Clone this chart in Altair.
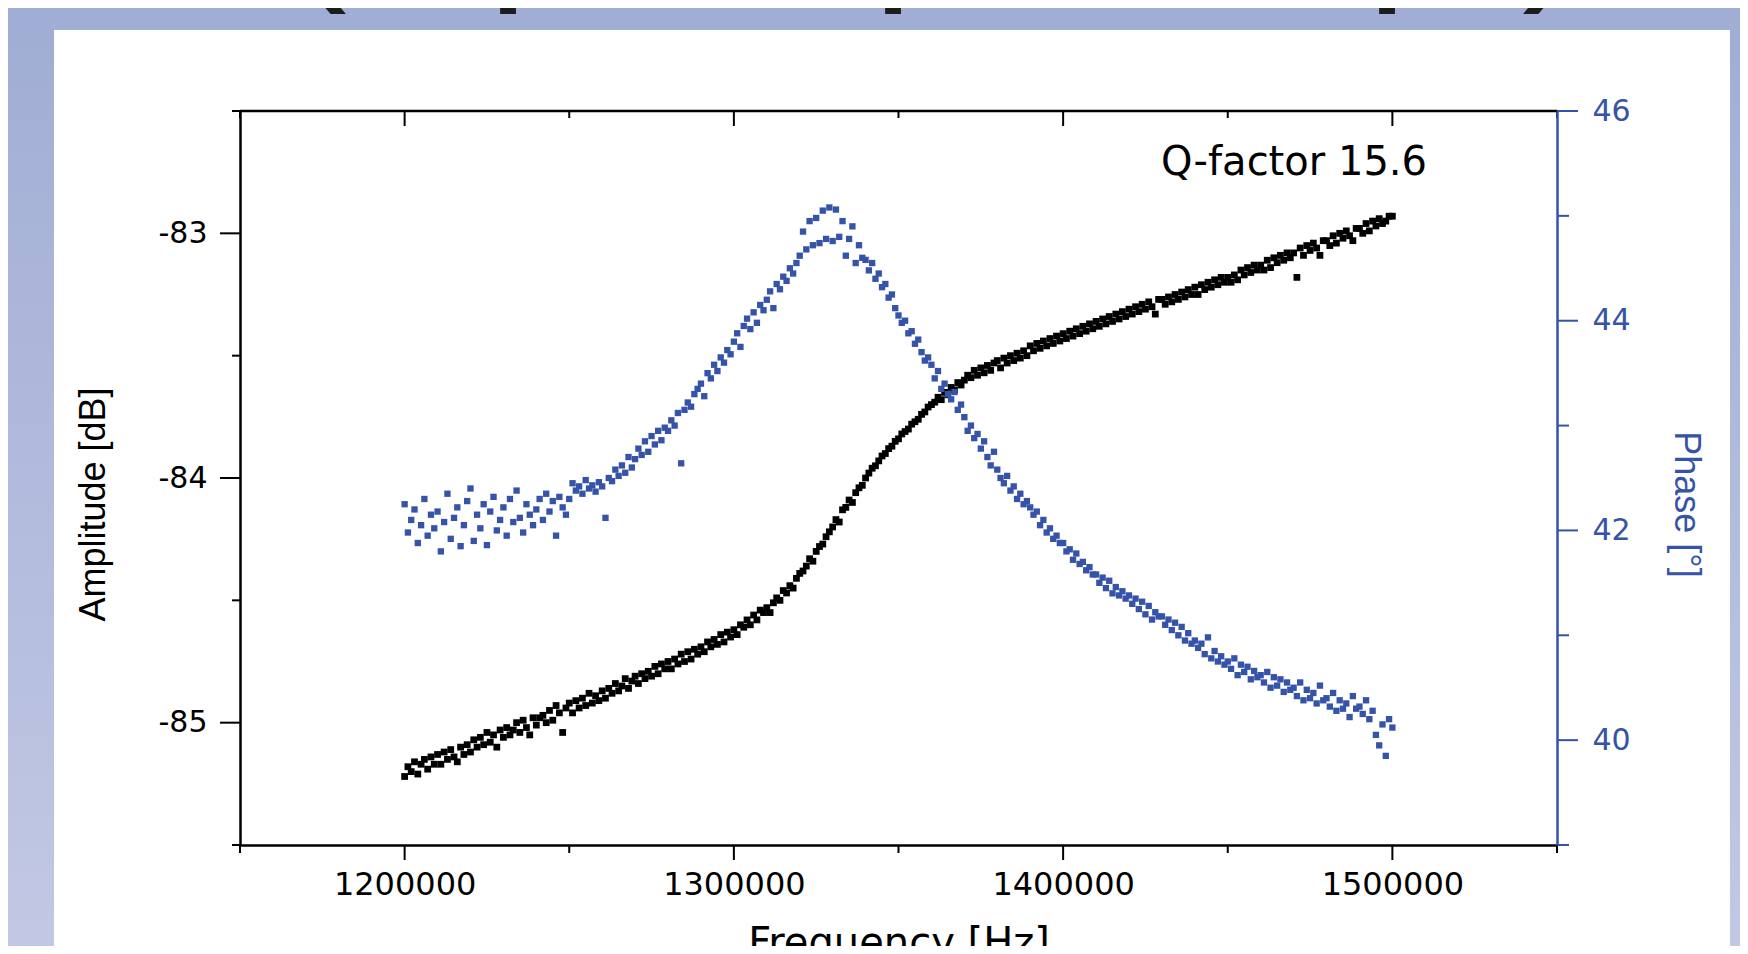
import altair as alt
import pandas as pd

# ---------------- data ----------------
freq_hz = [k * 1000 for k in range(1200, 1501)]  # uniform sweep, 1 kHz step

amplitude_db = [
    -85.22, -85.18, -85.20, -85.16, -85.21, -85.17, -85.15, -85.19, -85.14, -85.17,
    -85.13, -85.17, -85.12, -85.15, -85.11, -85.14, -85.16, -85.10, -85.13, -85.09,
    -85.12, -85.07, -85.10, -85.06, -85.09, -85.04, -85.08, -85.05, -85.10, -85.03,
    -85.06, -85.02, -85.05, -85.03, -85.00, -85.04, -84.99, -85.02, -85.05, -84.98,
    -85.01, -84.98, -84.97, -85.00, -84.95, -84.99, -84.93, -84.96, -85.04, -84.94,
    -84.92, -84.96, -84.91, -84.94, -84.90, -84.93, -84.88, -84.92, -84.89, -84.91,
    -84.87, -84.90, -84.86, -84.88, -84.84, -84.87, -84.85, -84.82, -84.86, -84.83,
    -84.81, -84.84, -84.80, -84.82, -84.79, -84.81, -84.77, -84.80, -84.76, -84.78,
    -84.75, -84.78, -84.74, -84.76, -84.72, -84.75, -84.71, -84.74, -84.70, -84.72,
    -84.69, -84.71, -84.67, -84.69, -84.66, -84.68, -84.64, -84.67, -84.63, -84.65,
    -84.62, -84.64, -84.60, -84.61, -84.58, -84.60, -84.56, -84.58, -84.54, -84.55,
    -84.53, -84.55, -84.51, -84.49, -84.50, -84.46, -84.47, -84.44, -84.45, -84.41,
    -84.39, -84.38, -84.36, -84.33, -84.34, -84.30, -84.28, -84.27, -84.24, -84.22,
    -84.20, -84.17, -84.18, -84.13, -84.12, -84.09, -84.10, -84.06, -84.04, -84.03,
    -84.00, -83.98, -83.96, -83.95, -83.93, -83.91, -83.90, -83.88, -83.87, -83.85,
    -83.84, -83.82, -83.81, -83.80, -83.78, -83.77, -83.76, -83.74, -83.73, -83.71,
    -83.70, -83.69, -83.67, -83.68, -83.65, -83.66, -83.63, -83.64, -83.61, -83.62,
    -83.60, -83.58, -83.59, -83.56, -83.58, -83.55, -83.57, -83.54, -83.56, -83.53,
    -83.52, -83.55, -83.51, -83.53, -83.50, -83.52, -83.49, -83.51, -83.48, -83.50,
    -83.46, -83.48, -83.45, -83.47, -83.44, -83.46, -83.43, -83.45, -83.42, -83.44,
    -83.41, -83.43, -83.40, -83.42, -83.39, -83.41, -83.38, -83.40, -83.37, -83.39,
    -83.36, -83.38, -83.35, -83.37, -83.34, -83.36, -83.33, -83.35, -83.32, -83.34,
    -83.31, -83.33, -83.30, -83.32, -83.29, -83.31, -83.28, -83.30, -83.33, -83.27,
    -83.27, -83.29, -83.26, -83.28, -83.25, -83.27, -83.24, -83.26, -83.23, -83.25,
    -83.22, -83.25, -83.21, -83.23, -83.20, -83.22, -83.19, -83.21, -83.18, -83.20,
    -83.18, -83.20, -83.17, -83.19, -83.15, -83.17, -83.14, -83.16, -83.13, -83.15,
    -83.13, -83.15, -83.11, -83.14, -83.10, -83.12, -83.09, -83.11, -83.08, -83.10,
    -83.08, -83.18, -83.06, -83.09, -83.05, -83.07, -83.04, -83.06, -83.09, -83.03,
    -83.03, -83.05, -83.01, -83.04, -83.00, -83.02, -82.99, -83.01, -83.03, -82.98,
    -82.98, -83.00, -82.96, -82.99, -82.95, -82.97, -82.94, -82.96, -82.95, -82.93,
    -82.93,
]

phase_deg = [
    42.25, 41.98, 42.10, 42.20, 41.88, 42.05, 42.30, 41.95, 42.15, 42.02,
    42.18, 41.80, 42.08, 42.35, 41.92, 42.12, 42.22, 41.85, 42.05, 42.28,
    42.40, 41.90, 42.15, 42.02, 42.25, 41.86, 42.18, 42.32, 42.00, 42.10,
    42.22, 41.95, 42.30, 42.08, 42.38, 42.12, 41.98, 42.25, 42.15, 42.05,
    42.20, 42.30, 42.10, 42.35, 42.18, 42.28, 41.95, 42.32, 42.22, 42.15,
    42.30, 42.45, 42.38, 42.42, 42.35, 42.48, 42.40, 42.43, 42.37, 42.46,
    42.42, 42.12, 42.50, 42.47, 42.58, 42.52, 42.62, 42.55, 42.70, 42.60,
    42.68, 42.78, 42.72, 42.85, 42.75, 42.90, 42.82, 42.95, 42.86, 42.98,
    42.95, 43.05, 43.00, 43.12, 42.64, 43.15, 43.22, 43.18, 43.30, 43.35,
    43.40, 43.28, 43.50, 43.45, 43.58, 43.52, 43.65, 43.60, 43.72, 43.68,
    43.80, 43.88, 43.75, 43.95, 44.02, 43.92, 44.08, 43.98, 44.15, 44.10,
    44.20, 44.28, 44.12, 44.35, 44.30, 44.42, 44.38, 44.50, 44.45, 44.55,
    44.62, 44.85, 44.68, 44.95, 44.72, 44.98, 44.74, 45.05, 44.78, 45.08,
    44.76, 45.06, 44.80, 44.95, 44.62, 44.78, 44.90, 44.55, 44.72, 44.60,
    44.58, 44.48, 44.55, 44.40, 44.45, 44.32, 44.35, 44.22, 44.25, 44.12,
    44.05, 43.98, 44.00, 43.88, 43.90, 43.78, 43.82, 43.70, 43.62, 43.65,
    43.58, 43.45, 43.52, 43.35, 43.40, 43.30, 43.25, 43.32, 43.15, 43.20,
    43.08, 42.95, 43.00, 42.88, 42.92, 42.78, 42.85, 42.70, 42.62, 42.75,
    42.58, 42.50, 42.45, 42.52, 42.38, 42.42, 42.30, 42.35, 42.25, 42.28,
    42.22, 42.15, 42.18, 42.05, 42.10, 41.98, 42.02, 41.92, 41.95, 41.88,
    41.88, 41.80, 41.82, 41.72, 41.78, 41.68, 41.70, 41.62, 41.65, 41.58,
    41.58, 41.50, 41.55, 41.45, 41.52, 41.40, 41.46, 41.38, 41.42, 41.35,
    41.38, 41.30, 41.35, 41.25, 41.32, 41.20, 41.28, 41.15, 41.22, 41.18,
    41.18, 41.10, 41.15, 41.05, 41.12, 41.00, 41.08, 40.95, 41.02, 40.92,
    40.95, 40.88, 40.92, 40.82, 40.98, 40.78, 40.85, 40.75, 40.80, 40.72,
    40.75, 40.68, 40.78, 40.62, 40.72, 40.65, 40.70, 40.58, 40.66, 40.60,
    40.62, 40.55, 40.65, 40.50, 40.60, 40.52, 40.58, 40.46, 40.55, 40.48,
    40.50, 40.42, 40.55, 40.38, 40.48, 40.40, 40.45, 40.35, 40.52, 40.38,
    40.40, 40.32, 40.45, 40.28, 40.38, 40.30, 40.35, 40.22, 40.42, 40.30,
    40.32, 40.25, 40.38, 40.20, 40.28, 40.05, 39.95, 40.15, 39.85, 40.20,
    40.12,
]

x_major = [1200000, 1300000, 1400000, 1500000]
x_minor = [1150000, 1250000, 1350000, 1450000, 1550000]
amp_major = [-85, -84, -83]
amp_minor = [-85.5, -84.5, -83.5, -82.5]
phase_major = [40, 42, 44, 46]
phase_minor = [39, 41, 43, 45]
q_label = "Q-factor 15.6"
x_title = "Frequency [Hz]"
amp_title = "Amplitude [dB]"
phase_title = "Phase [°]"
slide_glyphs = ["(", "p", "p", "p", ")"]  # cut-off slide heading above the panel

# ---------------- layout / style ----------------
W, H = 1317, 734
PAD = {"left": 232, "top": 103, "right": 183, "bottom": 101}
BLUE = "#3553a8"
NUM_FONT = "DejaVu Sans"
TXT_FONT = "Liberation Sans"

df = pd.DataFrame({"freq": freq_hz, "amp": amplitude_db, "phase": phase_deg})
one = alt.Data(values=[{}])

x_scale = alt.Scale(domain=[1150000, 1550000], nice=False, zero=False)
amp_scale = alt.Scale(domain=[-85.5, -82.5], nice=False, zero=False)
ph_scale = alt.Scale(domain=[39, 46], nice=False, zero=False)

x_axis = alt.Axis(
    values=x_major, format="d", ticks=False, grid=False,
    domainColor="black", domainWidth=2.5, labelColor="black",
    labelFont=NUM_FONT, labelFontSize=32, labelPadding=24,
    title=x_title, titleFont=NUM_FONT, titleFontSize=40, titleFontWeight="normal",
    titleColor="black", titleY=78, titleBaseline="top", zindex=2,
)
x_enc = alt.X("freq:Q", scale=x_scale, axis=x_axis)

# background gradient and white panel
bg = alt.Chart(one).mark_rect(
    fill=alt.LinearGradient(
        gradient="linear", x1=0, x2=0, y1=0, y2=1,
        stops=[alt.GradientStop(offset=0, color="#a0add4"),
               alt.GradientStop(offset=1, color="#c2c8e4")],
    )
).encode(x=alt.value(-PAD["left"]), x2=alt.value(W + PAD["right"]),
         y=alt.value(-PAD["top"]), y2=alt.value(H + PAD["bottom"]))

panel = alt.Chart(one).mark_rect(fill="white").encode(
    x=alt.value(-186), x2=alt.value(1490), y=alt.value(-81), y2=alt.value(H + PAD["bottom"] + 5))

glyph_x = [47, 248, 633, 1127, 1282]
glyph_layers = [
    alt.Chart(one).mark_text(text=g, font=TXT_FONT, fontSize=180, align="left",
                             baseline="alphabetic", color="#1c1c1c")
    .encode(x=alt.value(gx), y=alt.value(-134))
    for g, gx in zip(slide_glyphs, glyph_x)
]

amp_pts = alt.Chart(df).mark_square(size=46, color="black", opacity=1, filled=True).encode(
    x=x_enc,
    y=alt.Y("amp:Q", scale=amp_scale, axis=alt.Axis(
        orient="left", values=amp_major, ticks=False, grid=False,
        labelExpr="toString(datum.value)",
        domainColor="black", domainWidth=2.5, labelColor="black",
        labelFont=NUM_FONT, labelFontSize=30, labelPadding=33,
        title=amp_title, titleFont=TXT_FONT, titleFontSize=36, titleFontWeight="normal",
        titleColor="black", titleAngle=270, titleX=-147, titleY=393,
        titleAlign="center", titleBaseline="middle", zindex=2)),
)

ph_pts = alt.Chart(df).mark_square(size=40, color=BLUE, opacity=1, filled=True).encode(
    x=x_enc,
    y=alt.Y("phase:Q", scale=ph_scale, axis=alt.Axis(
        orient="right", values=phase_major, format="d", ticks=False, grid=False,
        domainColor=BLUE, domainWidth=2.5, labelColor=BLUE,
        labelFont=NUM_FONT, labelFontSize=30, labelPadding=35,
        title=phase_title, titleFont=TXT_FONT, titleFontSize=36, titleFontWeight="normal",
        titleColor=BLUE, titleAngle=90, titleX=128, titleY=393,
        titleAlign="center", titleBaseline="middle", zindex=2)),
)

# tick marks (drawn through the same scales)
def xticks(vals, y0, y1):
    return alt.Chart(pd.DataFrame({"freq": vals})).mark_rule(color="black", strokeWidth=2).encode(
        x=x_enc, y=alt.value(y0), y2=alt.value(y1))

def yticks(vals, field, scale, x0, x1, color):
    return alt.Chart(pd.DataFrame({field: vals})).mark_rule(color=color, strokeWidth=2).encode(
        y=alt.Y(f"{field}:Q", scale=scale, axis=None), x=alt.value(x0), x2=alt.value(x1))

tick_layers = [
    xticks(x_major, H, H + 15), xticks(x_minor, H, H + 8),
    xticks(x_major, 0, 15), xticks(x_minor, 0, 7),
    yticks(amp_major, "amp", amp_scale, 0, -20, "black"),
    yticks(amp_minor, "amp", amp_scale, 0, -8, "black"),
    yticks(phase_major, "phase", ph_scale, W, W + 21, BLUE),
    yticks(phase_minor, "phase", ph_scale, W, W + 12, BLUE),
]

top_line = alt.Chart(one).mark_rule(color="black", strokeWidth=2.5).encode(
    x=alt.value(0), x2=alt.value(W), y=alt.value(0))

q_text = alt.Chart(one).mark_text(text=q_label, font=NUM_FONT, fontSize=40, align="right",
                                   baseline="alphabetic", color="black").encode(
    x=alt.value(1187), y=alt.value(64))

chart = alt.layer(
    bg, panel, *glyph_layers, amp_pts, ph_pts, *tick_layers, top_line, q_text
).resolve_scale(y="independent").properties(
    width=W, height=H, padding=PAD, autosize=alt.AutoSizeParams(type="none"),
    background="white",
).configure_view(stroke=None)

chart.save("out.html", embed_options={"renderer": "svg", "actions": False})
